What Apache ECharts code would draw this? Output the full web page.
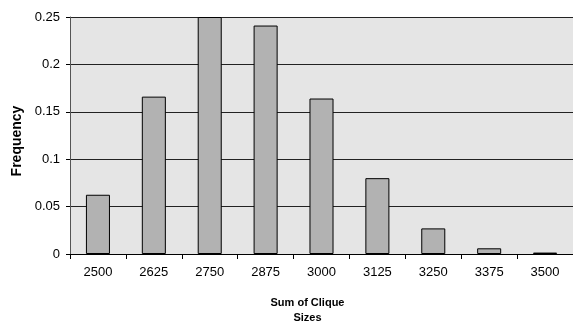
<!DOCTYPE html>
<html><head><meta charset="utf-8">
<script src="https://cdn.jsdelivr.net/npm/echarts@6/dist/echarts.min.js"></script>
<style>html,body{margin:0;padding:0;background:#fff}#c{width:573px;height:322px}</style>
</head><body><div id="c"></div>
<script>
const categories = ['2500','2625','2750','2875','3000','3125','3250','3375','3500'];
const frequency = [0.0625, 0.166, 0.25, 0.241, 0.164, 0.080, 0.027, 0.006, 0.0015];
const yTicks = [0, 0.05, 0.1, 0.15, 0.2, 0.25];
const chart = echarts.init(document.getElementById('c'));
chart.setOption({
  animation: false,
  grid: {left: 70, right: 0, top: 17, bottom: 68, show: true, backgroundColor: '#e5e5e5', borderWidth: 0,
         containLabel: false, outerBoundsMode: 'none'},
  xAxis: {
    type: 'category', data: categories,
    name: 'Sum of Clique\nSizes', nameLocation: 'middle', nameGap: 41,
    nameTextStyle: {fontFamily: 'Liberation Sans', fontWeight: 'bold', fontSize: 11, color: '#000', lineHeight: 15, padding: [0, 28, 0, 0]},
    axisLine: {lineStyle: {color: '#000', width: 1}},
    axisTick: {show: true, alignWithLabel: false, length: 5, lineStyle: {color: '#000'}},
    axisLabel: {fontFamily: 'Liberation Sans', fontSize: 13, color: '#000', margin: 12}
  },
  yAxis: {
    type: 'value', min: 0, max: 0.25, interval: 0.05,
    name: 'Frequency', nameLocation: 'middle', nameGap: 46,
    nameTextStyle: {fontFamily: 'Liberation Sans', fontWeight: 'bold', fontSize: 14, color: '#000', padding: [0, 11, 0, 0]},
    axisLine: {show: true, lineStyle: {color: '#555', width: 1}},
    axisTick: {show: true, length: 4, lineStyle: {color: '#000'}},
    axisLabel: {fontFamily: 'Liberation Sans', fontSize: 13, color: '#000', margin: 10,
      formatter: v => String(yTicks.find(t => Math.abs(t - v) < 1e-9) ?? v)},
    splitLine: {show: true, lineStyle: {color: '#222', width: 1}}
  },
  series: [{
    type: 'bar', data: frequency, barWidth: '43%',
    itemStyle: {color: '#b2b2b2', borderColor: '#000', borderWidth: 1}
  }]
});
</script></body></html>
